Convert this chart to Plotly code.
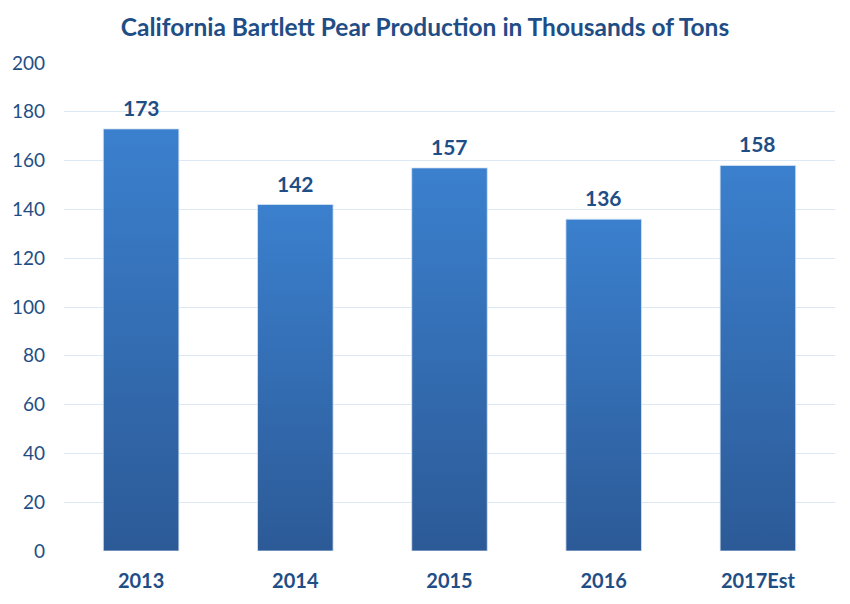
import plotly.graph_objects as go

years = ["2013", "2014", "2015", "2016", "2017Est"]
production = [173, 142, 157, 136, 158]
y_ticks = [0, 20, 40, 60, 80, 100, 120, 140, 160, 180, 200]

BAR_W = 0.49
TOP = "#3B80CE"
BOTTOM = "#2C5A97"
TXT = "#1F4E86"

fig = go.Figure()
for i, v in enumerate(production):
    fig.add_trace(go.Scatter(
        x=[i - BAR_W / 2, i - BAR_W / 2, i + BAR_W / 2, i + BAR_W / 2, i - BAR_W / 2],
        y=[0, v, v, 0, 0],
        mode="lines", fill="toself",
        line=dict(width=0.8, color="#D6E4F3"),
        fillgradient=dict(type="vertical", colorscale=[[0, BOTTOM], [1, TOP]],
                          start=0, stop=v),
        hoverinfo="skip", showlegend=False,
    ))
    fig.add_annotation(x=i, y=v, text=f"<b>{v}</b>", showarrow=False,
                       yanchor="bottom", yshift=7,
                       font=dict(family="Lato", size=21, color=TXT))

fig.update_layout(
    width=850, height=604,
    margin=dict(l=60, r=15, t=63, b=53),
    paper_bgcolor="white", plot_bgcolor="white",
    title=dict(text="<b>California Bartlett Pear Production in Thousands of Tons</b>",
               x=0.5, xanchor="center", y=0.955, yanchor="middle",
               font=dict(family="Lato", size=24.5, color=TXT)),
    xaxis=dict(range=[-0.5, 4.5], tickvals=list(range(len(years))), ticktext=years,
               showgrid=False, zeroline=False, showline=False, ticks="",
               ticklabelstandoff=16,
               tickfont=dict(family="Lato", size=20, color=TXT, weight="bold")),
    yaxis=dict(range=[0, 200], tickvals=y_ticks, showgrid=True, gridcolor="#DCE8F4",
               gridwidth=1, zeroline=False, showline=False, ticks="",
               ticklabelstandoff=18,
               tickfont=dict(family="Lato", size=19, color=TXT)),
)
fig.write_html("out.html")
